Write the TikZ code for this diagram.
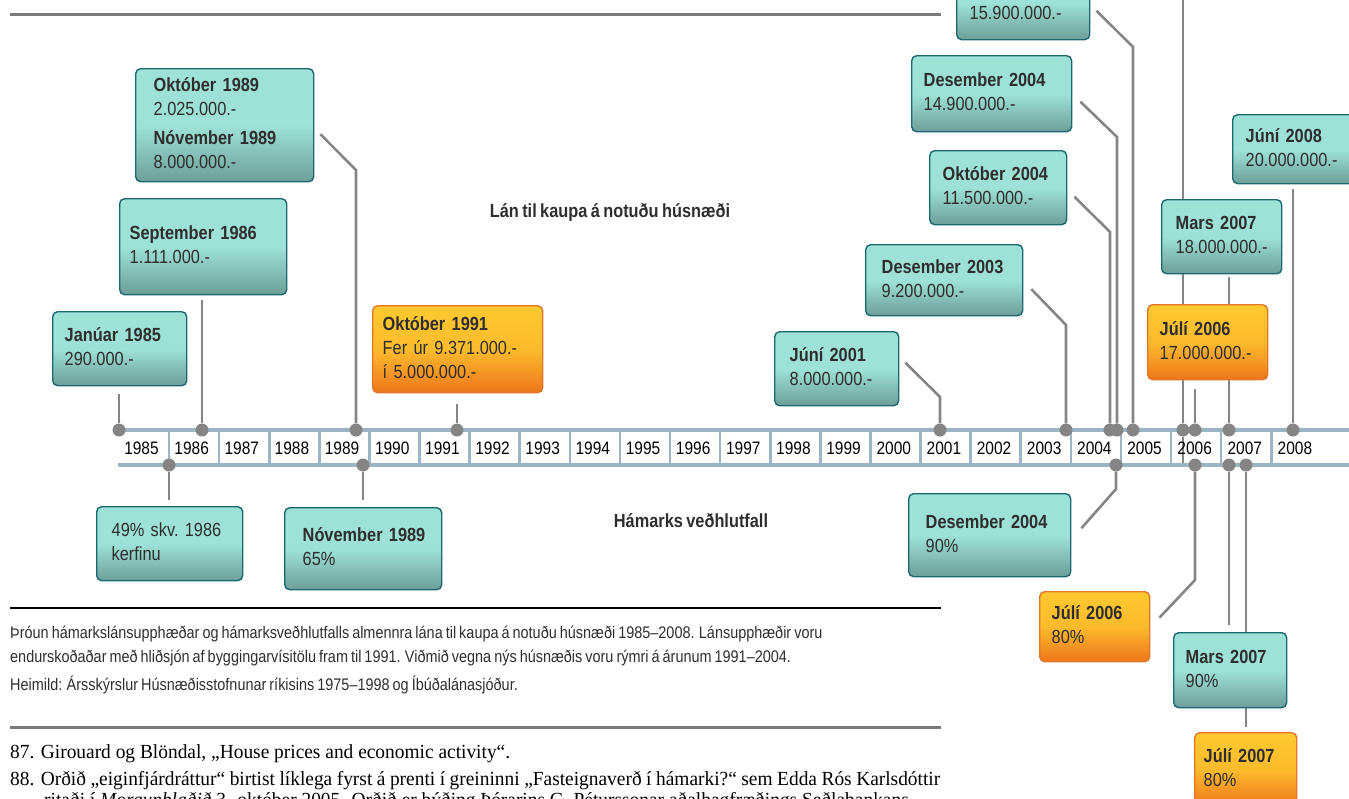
\documentclass[tikz,border=0pt]{standalone}
\usepackage{fontspec}
\setmainfont{Liberation Serif}
\setsansfont[FakeStretch=0.86,WordSpace=0.75]{Liberation Sans}
\newfontfamily\notefont[FakeStretch=0.97]{Liberation Serif}
\usetikzlibrary{backgrounds}
\definecolor{tealtop}{HTML}{9EE2D7}
\definecolor{tealbot}{HTML}{6C9E98}
\definecolor{tealline}{HTML}{1B6873}
\definecolor{ambtop}{HTML}{FEC92F}
\definecolor{ambmid}{HTML}{FBBB2C}
\definecolor{ambbot}{HTML}{EE761B}
\definecolor{ambline}{HTML}{E2762A}
\definecolor{ink}{HTML}{2E2E2E}
\definecolor{wire}{HTML}{858585}
\definecolor{axisblue}{HTML}{9CB5C4}
\definecolor{rulegray}{HTML}{7A7A7A}
\tikzset{
  base/.style={font=\sffamily\fontsize{19}{24}\selectfont,text=ink,align=left,anchor=north west,rounded corners=5pt,line width=1.4pt,inner ysep=0pt,execute at begin node=\strut,execute at end node=\strut},
  teal/.style={base,draw=tealline,top color=tealtop,bottom color=tealbot,middle color=tealtop},
  amber/.style={base,draw=ambline,top color=ambtop,bottom color=ambbot,middle color=ambmid},
  link/.style={draw=wire,line width=2.6pt},
  dot/.style={circle,fill=wire,minimum size=13pt,inner sep=0pt},
  yearline/.style={draw=axisblue,line width=4pt},
  tick/.style={draw=axisblue,line width=2.6pt},
  year/.style={font=\sffamily\fontsize{18}{20}\selectfont,text=black,inner sep=0pt},
  heading/.style={font=\sffamily\bfseries\fontsize{19}{24}\selectfont,text=ink},
  caption/.style={font=\sffamily\fontsize{16.8}{20}\selectfont,text=ink,anchor=base west,inner sep=0pt},
  footnote/.style={font=\notefont\fontsize{20}{24}\selectfont,text=black,anchor=base west,inner sep=0pt}
}
\begin{document}
\begin{tikzpicture}[x=1pt,y=-1pt]
\useasboundingbox (0,0) rectangle (1349,798);
\clip (0,0) rectangle (1349,798);
\coordinate (topedge) at (0,-5);

\draw[rulegray,line width=3pt] (10,14) -- (941,14);
\draw[black,line width=1.5pt] (10,608) -- (941,608);
\draw[rulegray,line width=3pt] (10,727) -- (941,727);

\node[caption] (cap1) at (10,638) {Þróun hámarkslánsupphæðar og hámarksveðhlutfalls almennra lána til kaupa á notuðu húsnæði 1985–2008. Lánsupphæðir voru};
\node[caption] (cap2) at (10,662) {endurskoðaðar með hliðsjón af byggingarvísitölu fram til 1991. Viðmið vegna nýs húsnæðis voru rýmri á árunum 1991–2004.};
\node[caption] (cap3) at (10,690) {Heimild: Ársskýrslur Húsnæðisstofnunar ríkisins 1975–1998 og Íbúðalánasjóður.};
\node[footnote] (fn87) at (10,758) {87. Girouard og Blöndal, „House prices and economic activity“.};
\node[footnote] (fn88) at (10,785) {\makebox[930pt][s]{88. Orðið „eiginfjárdráttur“ birtist líklega fyrst á prenti í greininni „Fasteignaverð í hámarki?“ sem Edda Rós Karlsdóttir}};
\node[footnote] (fn88b) at (44,806) {ritaði í \textit{Morgunblaðið} 3. október 2005. Orðið er þýðing Þórarins G. Péturssonar aðalhagfræðings Seðlabankans};

\node[heading] (loanhead) at (610,212) {Lán til kaupa á notuðu húsnæði};
\node[heading] (ltvhead) at (691,521) {Hámarks veðhlutfall};

\node[teal,inner xsep=18pt,text width=142pt,minimum height=113pt] (okt89) at (135,68) {\textbf{Október~1989}\\2.025.000.-\\[5pt]\textbf{Nóvember~1989}\\8.000.000.-};
\node[teal,inner xsep=10pt,text width=147pt,minimum height=96pt] (sep86) at (119,198) {\textbf{September~1986}\\1.111.000.-};
\node[teal,inner xsep=12pt,text width=110pt,minimum height=74pt] (jan85) at (52,311) {\textbf{Janúar~1985}\\290.000.-};
\node[amber,inner xsep=10pt,text width=150pt,minimum height=87pt] (okt91) at (372,305) {\textbf{Október~1991}\\Fer~úr~9.371.000.-\\í~5.000.000.-};
\node[teal,inner xsep=15pt,text width=94pt,minimum height=74pt] (jun01) at (774,331) {\textbf{Júní~2001}\\8.000.000.-};
\node[teal,inner xsep=16pt,text width=125pt,minimum height=71pt] (des03) at (865,244) {\textbf{Desember~2003}\\9.200.000.-};
\node[teal,inner xsep=13pt,text width=111pt,minimum height=74pt] (okt04) at (929,150) {\textbf{Október~2004}\\11.500.000.-};
\node[teal,inner xsep=12pt,text width=136pt,minimum height=76pt] (des04) at (911,55) {\textbf{Desember~2004}\\14.900.000.-};
\node[teal,inner xsep=13pt,text width=107pt,minimum height=74pt] (top05) at (956,-35) {\mbox{}\\15.900.000.-};
\node[teal,inner xsep=13pt,text width=124pt,minimum height=69pt] (jun08) at (1232,114) {\textbf{Júní~2008}\\20.000.000.-};
\node[teal,inner xsep=14pt,text width=92pt,minimum height=74pt] (mar07) at (1161,199) {\textbf{Mars~2007}\\18.000.000.-};
\node[amber,inner xsep=12pt,text width=96pt,minimum height=75pt] (jul06) at (1147,304) {\textbf{Júlí~2006}\\17.000.000.-};

\node[teal,inner xsep=15pt,text width=116pt,minimum height=74pt] (sep86b) at (96,506) {49\%~skv.~1986\\kerfinu};
\node[teal,inner xsep=18pt,text width=121pt,minimum height=82pt] (nov89b) at (284,507) {\textbf{Nóvember~1989}\\65\%};
\node[teal,inner xsep=17pt,text width=128pt,minimum height=83pt] (des04b) at (908,493) {\textbf{Desember~2004}\\90\%};
\node[amber,inner xsep=12pt,text width=86pt,minimum height=70pt] (jul06b) at (1039,591) {\textbf{Júlí~2006}\\80\%};
\node[teal,inner xsep=12pt,text width=89pt,minimum height=75pt] (mar07b) at (1173,632) {\textbf{Mars~2007}\\90\%};
\node[amber,inner xsep=9pt,text width=84pt,minimum height=74pt] (jul07b) at (1194,732) {\textbf{Júlí~2007}\\80\%};

\foreach \y [count=\i from 0] in {1985,...,2008}
  \node[year] (y\y) at ({141.5+50.15*\i},448) {\y};
\foreach \n/\x in {t85/119,t86/202,t89/356,t91/457,t01/940,t03/1066,t04a/1110,t04b/1117,t05/1133,t06a/1183,t06b/1195,t07/1229,t08/1293}
  \node[dot] (\n) at (\x,430) {};
\foreach \n/\x in {b86/169,b89/363,b04/1116,b06/1195,b07a/1229,b07b/1246}
  \node[dot] (\n) at (\x,465) {};

\begin{scope}[on background layer]
\draw[yearline] (113,430) -- (1360,430);
\draw[yearline] (118,465) -- (1360,465);
\foreach \k in {0,...,22}
  \draw[tick] ({169+50.1*\k},430) -- ({169+50.1*\k},465);

\draw[link] ([yshift=-8pt]jan85.south -| t85) -- (t85);
\draw[link] ([yshift=-5pt]sep86.south -| t86) -- (t86);
\draw[link] ([shift={(6,9)}]okt89.east) -- (t89 |- 0,170) -- (t89);
\draw[link] ([yshift=-11pt]okt91.south -| t91) -- (t91);
\draw[link] ([shift={(6,-6)}]jun01.east) -- (t01 |- 0,397) -- (t01);
\draw[link] ([shift={(8,9)}]des03.east) -- (t03 |- 0,325) -- (t03);
\draw[link] ([shift={(7,9)}]okt04.east) -- (t04a |- 0,232) -- (t04a);
\draw[link] ([shift={(8,8)}]des04.east) -- (t04b |- 0,137) -- (t04b);
\draw[link] ([shift={(6,8)}]top05.east) -- (t05 |- 0,47) -- (t05);
\draw[link] (t06a |- topedge) -- (t06a) -- ++(0,33);
\draw[link] ([yshift=-9pt]jul06.south -| t06b) -- (t06b);
\draw[link] ([yshift=-3pt]mar07.south -| t07) -- (t07);
\draw[link] ([yshift=-5pt]jun08.south -| t08) -- (t08);

\draw[link] (b86) -- ([yshift=6pt]sep86b.north -| b86);
\draw[link] (b89) -- ([yshift=7pt]nov89b.north -| b89);
\draw[link] (b04) -- (b04 |- 0,489) -- ([shift={(10,-7)}]des04b.east);
\draw[link] (b06) -- (b06 |- 0,580) -- ([shift={(9,-9)}]jul06b.east);
\draw[link] (b07a) -- ([yshift=7pt]mar07b.north -| b07a);
\draw[link] (b07b) -- ([yshift=5pt]jul07b.north -| b07b);
\end{scope}
\end{tikzpicture}
\end{document}
